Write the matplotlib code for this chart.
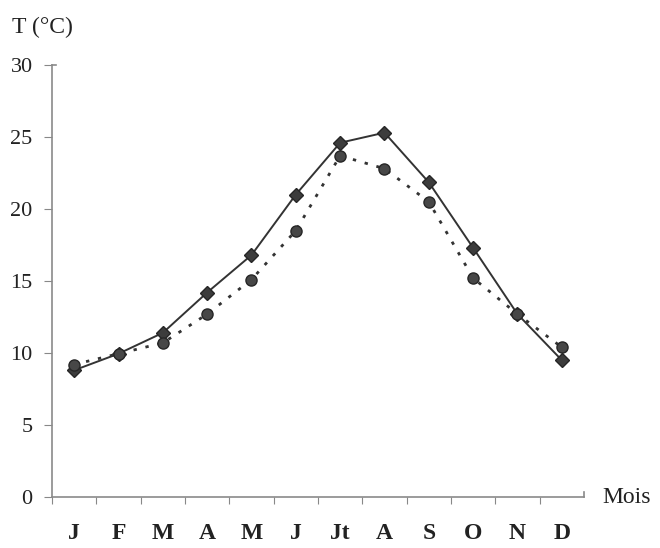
import matplotlib.pyplot as plt
import numpy as np

# monthly mean temperatures, two series
mois = ['J', 'F', 'M', 'A', 'M', 'J', 'Jt', 'A', 'S', 'O', 'N', 'D']
t_trait = [8.8, 9.95, 11.4, 14.2, 16.8, 21.0, 24.6, 25.3, 21.85, 17.3, 12.7, 9.5]
t_points = [9.2, 9.95, 10.7, 12.7, 15.1, 18.5, 23.7, 22.8, 20.5, 15.2, 12.7, 10.4]
y_ticks = [0, 5, 10, 15, 20, 25, 30]

plt.rcParams['font.family'] = ['Liberation Serif', 'DejaVu Serif']

fig = plt.figure(figsize=(6.6, 5.48), dpi=100)
ax = fig.add_axes([0.0788, 0.0931, 0.806, 0.7883])

x = np.arange(len(mois)) + 0.5
ax.plot(x, t_trait, color='#333333', lw=1.4, marker='D', ms=7,
        mfc='#3c3c3c', mec='#262626', zorder=3)
ax.plot(x, t_points, color='#333333', lw=2.0, ls=(0, (1.2, 3.2)),
        marker='o', ms=8, mfc='#474747', mec='#262626', zorder=4)

ax.set_xlim(0, 12)
ax.set_ylim(0, 30)
ax.set_yticks(y_ticks)
ax.set_yticklabels([str(v) for v in y_ticks], fontsize=16, color='#222222')
ax.set_xticks(np.arange(0, 12))
ax.set_xticklabels([])
ax.set_xticks(x, minor=True)
ax.set_xticklabels(mois, minor=True, fontsize=17, fontweight='bold', color='#222222')
ax.tick_params(axis='x', which='minor', length=0, pad=19)
ax.tick_params(axis='x', which='major', direction='out', length=5, color='#888888')
ax.tick_params(axis='y', direction='out', length=6, color='#888888', pad=8)

for s in ['top', 'right']:
    ax.spines[s].set_visible(False)
for s in ['left', 'bottom']:
    ax.spines[s].set_color('#8a8a8a')
    ax.spines[s].set_linewidth(1.2)

# small end marks on the axes
ax.plot([12, 12], [0, 0.35], color='#8a8a8a', lw=1.2, clip_on=False)
ax.plot([0, 0.1], [30, 30], color='#8a8a8a', lw=1.2, clip_on=False)

fig.text(0.018, 0.95, 'T (°C)', fontsize=17, color='#222222', va='center')
fig.text(0.913, 0.093, 'Mois', fontsize=17, color='#222222', va='center')

fig.savefig('out.png', dpi=100)
